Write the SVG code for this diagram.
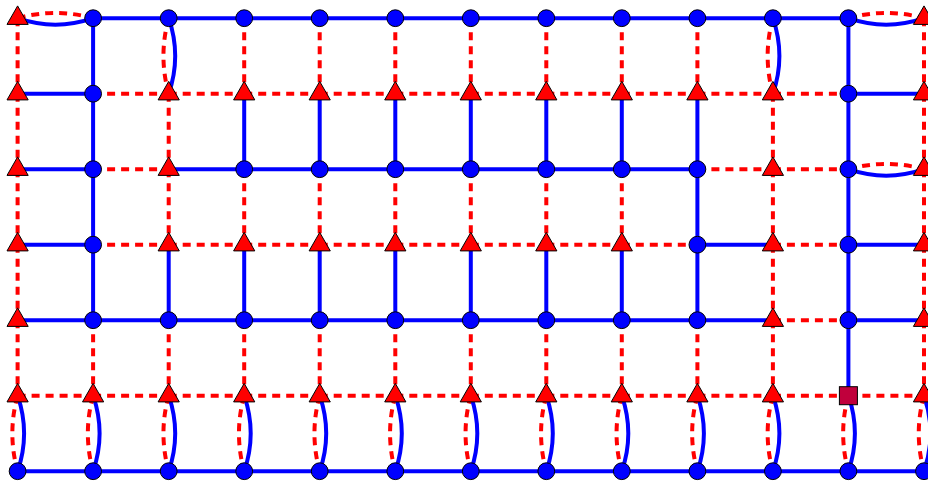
<svg xmlns="http://www.w3.org/2000/svg" xmlns:xlink="http://www.w3.org/1999/xlink" width="928" height="483" viewBox="0 0 928 483">
<style>
.b{fill:none;stroke:#0000FF;stroke-width:4}
.r{fill:none;stroke:#FF0000;stroke-width:4;stroke-dasharray:8 6}
</style>
<defs>
<circle id="C" r="8.4" fill="#0000FF" stroke="#000" stroke-width="1"/>
<path id="T" d="M0,-12.3 L10.6,6.2 L-10.6,6.2Z" fill="#FF0000" stroke="#000" stroke-width="1" stroke-linejoin="miter"/>
<rect id="S" x="-9" y="-9" width="18" height="18" fill="#C0003C" stroke="#000" stroke-width="1"/>
</defs>
<rect width="928" height="483" fill="#fff"/>
<g id="connectors">
<g id="blue-edges">
<path class="b" d="M93.1 18.2H848.4M17.6 93.7H93.1M848.4 93.7H924M17.6 169.2H93.1M168.7 169.2H697.4M17.6 244.7H93.1M697.4 244.7H772.9M848.4 244.7H924M17.6 320.2H772.9M848.4 320.2H924M17.6 471.2H924"/>
<path class="b" d="M93.1 18.2V320.2M168.7 244.7V320.2M244.2 93.7V169.2M244.2 244.7V320.2M319.7 93.7V169.2M319.7 244.7V320.2M395.3 93.7V169.2M395.3 244.7V320.2M470.8 93.7V169.2M470.8 244.7V320.2M546.3 93.7V169.2M546.3 244.7V320.2M621.8 93.7V169.2M621.8 244.7V320.2M697.4 93.7V320.2M848.4 18.2V395.7"/>
<path class="b" d="M17.6 18.2Q55.35 31.2 93.1 18.2M848.4 18.2Q886.2 31.2 924 18.2M848.4 169.2Q886.2 182.2 924 169.2M168.7 18.2Q181.7 55.95 168.7 93.7M772.9 18.2Q785.9 55.95 772.9 93.7"/>
<path class="b" d="M17.6 395.7Q30.6 433.45 17.6 471.2M93.1 395.7Q106.1 433.45 93.1 471.2M168.7 395.7Q181.7 433.45 168.7 471.2M244.2 395.7Q257.2 433.45 244.2 471.2M319.7 395.7Q332.7 433.45 319.7 471.2M395.3 395.7Q408.3 433.45 395.3 471.2M470.8 395.7Q483.8 433.45 470.8 471.2M546.3 395.7Q559.3 433.45 546.3 471.2M621.8 395.7Q634.8 433.45 621.8 471.2M697.4 395.7Q710.4 433.45 697.4 471.2M772.9 395.7Q785.9 433.45 772.9 471.2M848.4 395.7Q861.4 433.45 848.4 471.2M924 395.7Q937 433.45 924 471.2"/>
</g>
<g id="red-edges">
<path class="r" d="M93.1 93.7H168.7"/><path class="r" d="M168.7 93.7H244.2"/><path class="r" d="M244.2 93.7H319.7"/><path class="r" d="M319.7 93.7H395.3"/><path class="r" d="M395.3 93.7H470.8"/><path class="r" d="M470.8 93.7H546.3"/><path class="r" d="M546.3 93.7H621.8"/><path class="r" d="M621.8 93.7H697.4"/><path class="r" d="M697.4 93.7H772.9"/><path class="r" d="M772.9 93.7H848.4"/>
<path class="r" d="M93.1 169.2H168.7"/><path class="r" d="M697.4 169.2H772.9"/><path class="r" d="M772.9 169.2H848.4"/>
<path class="r" d="M93.1 244.7H168.7"/><path class="r" d="M168.7 244.7H244.2"/><path class="r" d="M244.2 244.7H319.7"/><path class="r" d="M319.7 244.7H395.3"/><path class="r" d="M395.3 244.7H470.8"/><path class="r" d="M470.8 244.7H546.3"/><path class="r" d="M546.3 244.7H621.8"/><path class="r" d="M621.8 244.7H697.4"/><path class="r" d="M772.9 244.7H848.4"/>
<path class="r" d="M772.9 320.2H848.4"/>
<path class="r" d="M17.6 395.7H93.1"/><path class="r" d="M93.1 395.7H168.7"/><path class="r" d="M168.7 395.7H244.2"/><path class="r" d="M244.2 395.7H319.7"/><path class="r" d="M319.7 395.7H395.3"/><path class="r" d="M395.3 395.7H470.8"/><path class="r" d="M470.8 395.7H546.3"/><path class="r" d="M546.3 395.7H621.8"/><path class="r" d="M621.8 395.7H697.4"/><path class="r" d="M697.4 395.7H772.9"/><path class="r" d="M772.9 395.7H848.4"/><path class="r" d="M848.4 395.7H924"/>
<path class="r" d="M17.6 18.2V93.7"/><path class="r" d="M17.6 93.7V169.2"/><path class="r" d="M17.6 169.2V244.7"/><path class="r" d="M17.6 244.7V320.2"/><path class="r" d="M17.6 320.2V395.7"/>
<path class="r" d="M93.1 320.2V395.7"/>
<path class="r" d="M168.7 93.7V169.2"/><path class="r" d="M168.7 169.2V244.7"/><path class="r" d="M168.7 320.2V395.7"/>
<path class="r" d="M244.2 18.2V93.7"/><path class="r" d="M244.2 169.2V244.7"/><path class="r" d="M244.2 320.2V395.7"/>
<path class="r" d="M319.7 18.2V93.7"/><path class="r" d="M319.7 169.2V244.7"/><path class="r" d="M319.7 320.2V395.7"/>
<path class="r" d="M395.3 18.2V93.7"/><path class="r" d="M395.3 169.2V244.7"/><path class="r" d="M395.3 320.2V395.7"/>
<path class="r" d="M470.8 18.2V93.7"/><path class="r" d="M470.8 169.2V244.7"/><path class="r" d="M470.8 320.2V395.7"/>
<path class="r" d="M546.3 18.2V93.7"/><path class="r" d="M546.3 169.2V244.7"/><path class="r" d="M546.3 320.2V395.7"/>
<path class="r" d="M621.8 18.2V93.7"/><path class="r" d="M621.8 169.2V244.7"/><path class="r" d="M621.8 320.2V395.7"/>
<path class="r" d="M697.4 18.2V93.7"/><path class="r" d="M697.4 320.2V395.7"/>
<path class="r" d="M772.9 93.7V169.2"/><path class="r" d="M772.9 169.2V244.7"/><path class="r" d="M772.9 244.7V320.2"/><path class="r" d="M772.9 320.2V395.7"/>
<path class="r" d="M924 18.2V93.7"/><path class="r" d="M924 93.7V169.2"/><path class="r" d="M924 169.2V244.7"/><path class="r" d="M924 244.7V320.2"/><path class="r" d="M924 320.2V395.7"/>
<path class="r" d="M17.6 18.2Q55.35 7.7 93.1 18.2"/><path class="r" d="M848.4 18.2Q886.2 7.7 924 18.2"/><path class="r" d="M848.4 169.2Q886.2 158.7 924 169.2"/>
<path class="r" d="M168.7 18.2Q158.2 55.95 168.7 93.7"/><path class="r" d="M772.9 18.2Q762.4 55.95 772.9 93.7"/>
<path class="r" d="M17.6 395.7Q7.1 433.45 17.6 471.2"/><path class="r" d="M93.1 395.7Q82.6 433.45 93.1 471.2"/><path class="r" d="M168.7 395.7Q158.2 433.45 168.7 471.2"/><path class="r" d="M244.2 395.7Q233.7 433.45 244.2 471.2"/><path class="r" d="M319.7 395.7Q309.2 433.45 319.7 471.2"/><path class="r" d="M395.3 395.7Q384.8 433.45 395.3 471.2"/><path class="r" d="M470.8 395.7Q460.3 433.45 470.8 471.2"/><path class="r" d="M546.3 395.7Q535.8 433.45 546.3 471.2"/><path class="r" d="M621.8 395.7Q611.3 433.45 621.8 471.2"/><path class="r" d="M697.4 395.7Q686.9 433.45 697.4 471.2"/><path class="r" d="M772.9 395.7Q762.4 433.45 772.9 471.2"/><path class="r" d="M848.4 395.7Q837.9 433.45 848.4 471.2"/><path class="r" d="M924 395.7Q913.5 433.45 924 471.2"/>
</g>
</g>
<g id="nodes">
<g id="n0-0"><use href="#T" x="17.6" y="18.2"/></g>
<g id="n0-1"><use href="#C" x="93.1" y="18.2"/></g>
<g id="n0-2"><use href="#C" x="168.7" y="18.2"/></g>
<g id="n0-3"><use href="#C" x="244.2" y="18.2"/></g>
<g id="n0-4"><use href="#C" x="319.7" y="18.2"/></g>
<g id="n0-5"><use href="#C" x="395.3" y="18.2"/></g>
<g id="n0-6"><use href="#C" x="470.8" y="18.2"/></g>
<g id="n0-7"><use href="#C" x="546.3" y="18.2"/></g>
<g id="n0-8"><use href="#C" x="621.8" y="18.2"/></g>
<g id="n0-9"><use href="#C" x="697.4" y="18.2"/></g>
<g id="n0-10"><use href="#C" x="772.9" y="18.2"/></g>
<g id="n0-11"><use href="#C" x="848.4" y="18.2"/></g>
<g id="n0-12"><use href="#T" x="924" y="18.2"/></g>
<g id="n1-0"><use href="#T" x="17.6" y="93.7"/></g>
<g id="n1-1"><use href="#C" x="93.1" y="93.7"/></g>
<g id="n1-2"><use href="#T" x="168.7" y="93.7"/></g>
<g id="n1-3"><use href="#T" x="244.2" y="93.7"/></g>
<g id="n1-4"><use href="#T" x="319.7" y="93.7"/></g>
<g id="n1-5"><use href="#T" x="395.3" y="93.7"/></g>
<g id="n1-6"><use href="#T" x="470.8" y="93.7"/></g>
<g id="n1-7"><use href="#T" x="546.3" y="93.7"/></g>
<g id="n1-8"><use href="#T" x="621.8" y="93.7"/></g>
<g id="n1-9"><use href="#T" x="697.4" y="93.7"/></g>
<g id="n1-10"><use href="#T" x="772.9" y="93.7"/></g>
<g id="n1-11"><use href="#C" x="848.4" y="93.7"/></g>
<g id="n1-12"><use href="#T" x="924" y="93.7"/></g>
<g id="n2-0"><use href="#T" x="17.6" y="169.2"/></g>
<g id="n2-1"><use href="#C" x="93.1" y="169.2"/></g>
<g id="n2-2"><use href="#T" x="168.7" y="169.2"/></g>
<g id="n2-3"><use href="#C" x="244.2" y="169.2"/></g>
<g id="n2-4"><use href="#C" x="319.7" y="169.2"/></g>
<g id="n2-5"><use href="#C" x="395.3" y="169.2"/></g>
<g id="n2-6"><use href="#C" x="470.8" y="169.2"/></g>
<g id="n2-7"><use href="#C" x="546.3" y="169.2"/></g>
<g id="n2-8"><use href="#C" x="621.8" y="169.2"/></g>
<g id="n2-9"><use href="#C" x="697.4" y="169.2"/></g>
<g id="n2-10"><use href="#T" x="772.9" y="169.2"/></g>
<g id="n2-11"><use href="#C" x="848.4" y="169.2"/></g>
<g id="n2-12"><use href="#T" x="924" y="169.2"/></g>
<g id="n3-0"><use href="#T" x="17.6" y="244.7"/></g>
<g id="n3-1"><use href="#C" x="93.1" y="244.7"/></g>
<g id="n3-2"><use href="#T" x="168.7" y="244.7"/></g>
<g id="n3-3"><use href="#T" x="244.2" y="244.7"/></g>
<g id="n3-4"><use href="#T" x="319.7" y="244.7"/></g>
<g id="n3-5"><use href="#T" x="395.3" y="244.7"/></g>
<g id="n3-6"><use href="#T" x="470.8" y="244.7"/></g>
<g id="n3-7"><use href="#T" x="546.3" y="244.7"/></g>
<g id="n3-8"><use href="#T" x="621.8" y="244.7"/></g>
<g id="n3-9"><use href="#C" x="697.4" y="244.7"/></g>
<g id="n3-10"><use href="#T" x="772.9" y="244.7"/></g>
<g id="n3-11"><use href="#C" x="848.4" y="244.7"/></g>
<g id="n3-12"><use href="#T" x="924" y="244.7"/></g>
<g id="n4-0"><use href="#T" x="17.6" y="320.2"/></g>
<g id="n4-1"><use href="#C" x="93.1" y="320.2"/></g>
<g id="n4-2"><use href="#C" x="168.7" y="320.2"/></g>
<g id="n4-3"><use href="#C" x="244.2" y="320.2"/></g>
<g id="n4-4"><use href="#C" x="319.7" y="320.2"/></g>
<g id="n4-5"><use href="#C" x="395.3" y="320.2"/></g>
<g id="n4-6"><use href="#C" x="470.8" y="320.2"/></g>
<g id="n4-7"><use href="#C" x="546.3" y="320.2"/></g>
<g id="n4-8"><use href="#C" x="621.8" y="320.2"/></g>
<g id="n4-9"><use href="#C" x="697.4" y="320.2"/></g>
<g id="n4-10"><use href="#T" x="772.9" y="320.2"/></g>
<g id="n4-11"><use href="#C" x="848.4" y="320.2"/></g>
<g id="n4-12"><use href="#T" x="924" y="320.2"/></g>
<g id="n5-0"><use href="#T" x="17.6" y="395.7"/></g>
<g id="n5-1"><use href="#T" x="93.1" y="395.7"/></g>
<g id="n5-2"><use href="#T" x="168.7" y="395.7"/></g>
<g id="n5-3"><use href="#T" x="244.2" y="395.7"/></g>
<g id="n5-4"><use href="#T" x="319.7" y="395.7"/></g>
<g id="n5-5"><use href="#T" x="395.3" y="395.7"/></g>
<g id="n5-6"><use href="#T" x="470.8" y="395.7"/></g>
<g id="n5-7"><use href="#T" x="546.3" y="395.7"/></g>
<g id="n5-8"><use href="#T" x="621.8" y="395.7"/></g>
<g id="n5-9"><use href="#T" x="697.4" y="395.7"/></g>
<g id="n5-10"><use href="#T" x="772.9" y="395.7"/></g>
<g id="n5-11"><use href="#S" x="848.4" y="395.7"/></g>
<g id="n5-12"><use href="#T" x="924" y="395.7"/></g>
<g id="n6-0"><use href="#C" x="17.6" y="471.2"/></g>
<g id="n6-1"><use href="#C" x="93.1" y="471.2"/></g>
<g id="n6-2"><use href="#C" x="168.7" y="471.2"/></g>
<g id="n6-3"><use href="#C" x="244.2" y="471.2"/></g>
<g id="n6-4"><use href="#C" x="319.7" y="471.2"/></g>
<g id="n6-5"><use href="#C" x="395.3" y="471.2"/></g>
<g id="n6-6"><use href="#C" x="470.8" y="471.2"/></g>
<g id="n6-7"><use href="#C" x="546.3" y="471.2"/></g>
<g id="n6-8"><use href="#C" x="621.8" y="471.2"/></g>
<g id="n6-9"><use href="#C" x="697.4" y="471.2"/></g>
<g id="n6-10"><use href="#C" x="772.9" y="471.2"/></g>
<g id="n6-11"><use href="#C" x="848.4" y="471.2"/></g>
<g id="n6-12"><use href="#C" x="924" y="471.2"/></g>
</g>
</svg>
